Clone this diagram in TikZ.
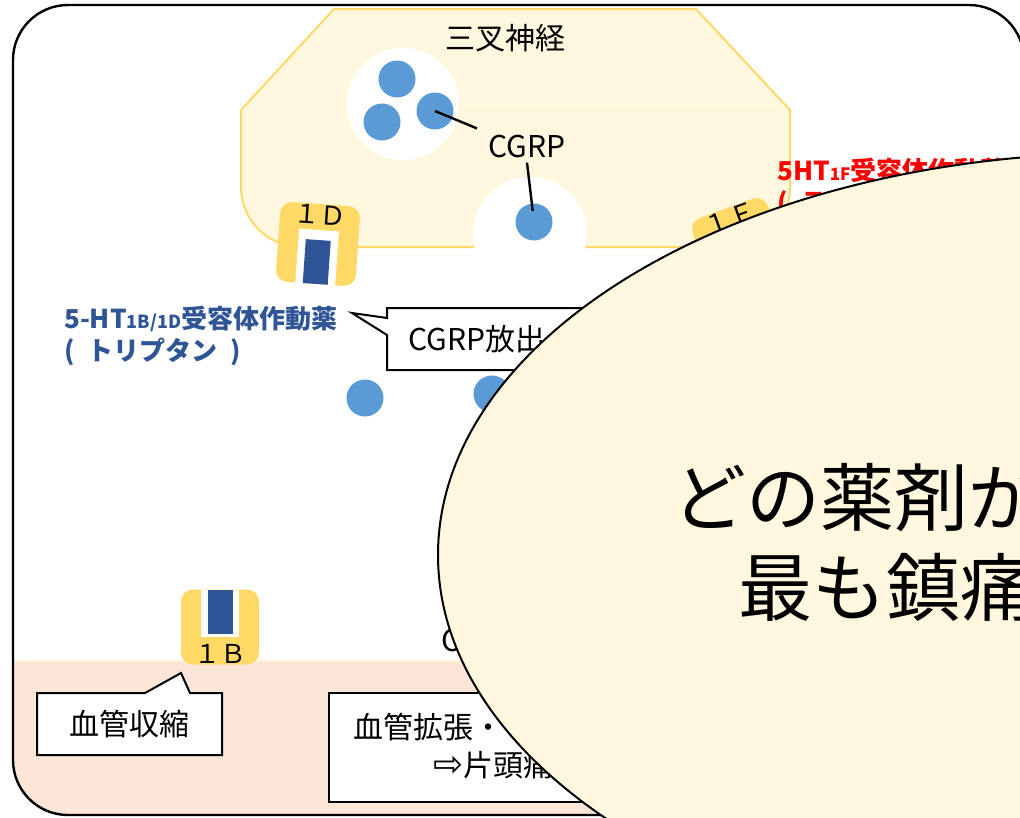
\documentclass[tikz,border=0pt]{standalone}
\usepackage{fontspec}
\setmainfont{Noto Sans CJK JP}
\newfontfamily\arrowfont{DejaVu Sans}
\usetikzlibrary{
    shapes.geometric,
    positioning
}
\definecolor{nervefill}{HTML}{FFF8DF}
\definecolor{nerveline}{HTML}{FFD966}
\definecolor{nerveseam}{HTML}{FFF0C4}
\definecolor{rcpyellow}{HTML}{FFD966}
\definecolor{drugblue}{HTML}{2F5597}
\definecolor{cgrpblue}{HTML}{5B9BD5}
\definecolor{vesselpink}{HTML}{FBE5D6}
\definecolor{vesselline}{HTML}{FFF2CC}

\tikzset{receptor/.style={
        fill=rcpyellow,
        rounded corners=12pt,
        minimum width=80pt,
        minimum height=80pt,
        inner sep=0pt,
    }
}
\tikzset{
    rcp-notch/.style={fill=white, minimum width=40pt, minimum height=54pt, inner sep=0pt},
    rcp-drug/.style={fill=drugblue, minimum width=25pt, minimum height=44pt, inner sep=0pt},
    rcp-label/.style={font=\fontsize{26}{30}\selectfont, inner sep=1pt},
    cgrp/.style={circle, fill=cgrpblue, minimum size=37pt, inner sep=0pt},
    vesicle/.style={circle, fill=white, inner sep=0pt},
}

\begin{document}
\begin{tikzpicture}[
    x=1pt, y=-1pt,
    callout/.style={draw=black, line width=2pt, fill=white},
    box-text/.style={font=\fontsize{30}{36}\selectfont, inner sep=0pt},
    agonist/.style={font=\bfseries\fontsize{26}{32}\selectfont, align=left, inner sep=0pt},
    question-text/.style={font=\fontsize{74}{88}\selectfont, inner sep=0pt},
    pointer/.style={line width=2.4pt}
    ]

    \useasboundingbox (0,0) rectangle (1020,817);
    \fill[white] (0,0) rectangle (1020,817);
    \clip (0,0) rectangle (1020,817);

    % vessel band inside the frame
    \begin{scope}
        \clip[rounded corners=55pt] (13,5) rectangle (1024,815);
        \fill[vesselpink] (0,660) rectangle (1030,817);
        \draw[vesselline, line width=2pt] (0,661) -- (1030,661);
    \end{scope}
    \draw[line width=2.4pt, rounded corners=55pt] (13,5) rectangle (1024,815);

    % trigeminal nerve
    \draw[nerveline, fill=nervefill, line width=2pt] (334,9) -- (696,9) -- (790,110) -- (790,187)
        .. controls (790,220) and (763,247) .. (730,247) -- (301,247)
        .. controls (268,247) and (241,220) .. (241,187) -- (241,110) -- cycle;
    \draw[nerveseam, line width=1pt] (459,110) -- (789,110);
    \node[box-text] (nerve-name) at (505,38) {三叉神経};

    \node[vesicle, minimum size=112pt] (pool) at (403,104) {};
    \node[cgrp] (cgrp-a) at (397,79) {};
    \node[cgrp] (cgrp-b) at (382,122) {};
    \node[cgrp] (cgrp-c) at (435,111) {};
    \node[vesicle, minimum size=114pt] (release) at (530,234) {};
    \node[cgrp] (cgrp-d) at (534,222) {};
    \node[box-text, inner sep=4pt] (cgrp-name) at (527,147) {CGRP};
    \draw[pointer, shorten >=8pt] (cgrp-c.center) -- (cgrp-name.160);
    \draw[pointer, shorten >=11pt] (cgrp-name.south) -- (cgrp-d.center);

    % receptors
    \node[receptor, rotate=-4] (r1d) at (318,244) {};
    \node[rcp-notch, rotate=-4, anchor=south] (r1d-notch) at (r1d.south) {};
    \node[rcp-drug, rotate=-4, anchor=south] (r1d-drug) at (r1d.south) {};
    \node[rcp-label, rotate=-4, anchor=north] (r1d-name) at (r1d.north) {１Ｄ};

    \node[receptor, rotate=20] (r1f) at (740,246) {};
    \node[rcp-label, rotate=20, anchor=north] (r1f-name) at (r1f.north) {１Ｆ};

    \node[receptor, minimum width=78pt, minimum height=75pt] (r1b) at (220,627) {};
    \node[rcp-notch, anchor=north, minimum width=38pt, minimum height=47pt] (r1b-notch) at (r1b.north) {};
    \node[rcp-drug, anchor=north] (r1b-drug) at (r1b.north) {};
    \node[rcp-label, anchor=south] (r1b-name) at (r1b.south) {１Ｂ};

    \node[agonist, text=drugblue, anchor=west] (triptan) at (64,336)
        {5-HT{\fontsize{18}{18}\selectfont 1B/1D}受容体作動薬\\(\hspace{0.5em}トリプタン\hspace{0.5em})};
    \node[agonist, text=red, anchor=north west] (lasmiditan) at (777,158)
        {5HT{\fontsize{17}{17}\selectfont 1F}受容体作動薬\\(\hspace{0.5em}ラスミジタン\hspace{0.5em})};

    % released CGRP
    \node[cgrp] (cgrp-e) at (365,398) {};
    \node[cgrp] (cgrp-f) at (492,394) {};
    \node[box-text, anchor=west] (cgrp-vessel) at (441,640) {CGRP};

    % speech boxes
    \draw[callout] (387,308) -- (640,308) -- (640,370) -- (387,370) -- (387,335) -- (352,313) -- (387,318) -- cycle;
    \node[box-text, anchor=west] (release-text) at (408,339) {CGRP放出};

    \draw[callout] (37,693) -- (145,693) -- (181,673) -- (190,693) -- (222,693) -- (222,755) -- (37,755) -- cycle;
    \node[box-text] (constrict-text) at (129,724) {血管収縮};

    \draw[callout] (329,693) rectangle (700,802);
    \node[box-text, anchor=west] (dilate-text) at (353,727) {血管拡張・};
    \node[box-text, anchor=west] (migraine-text) at (433,765) {{\arrowfont\fontsize{36}{36}\selectfont ⇨}片頭痛};

    % question bubble
    \node[ellipse, draw, line width=2pt, fill=nervefill, minimum width=1372pt, minimum height=804pt, inner sep=0pt] (question) at (1124,555) {};
    \node[question-text, anchor=west] (question-a) at (672,497) {どの薬剤が};
    \node[question-text, anchor=west] (question-b) at (738,587) {最も鎮痛};

\end{tikzpicture}
\end{document}
